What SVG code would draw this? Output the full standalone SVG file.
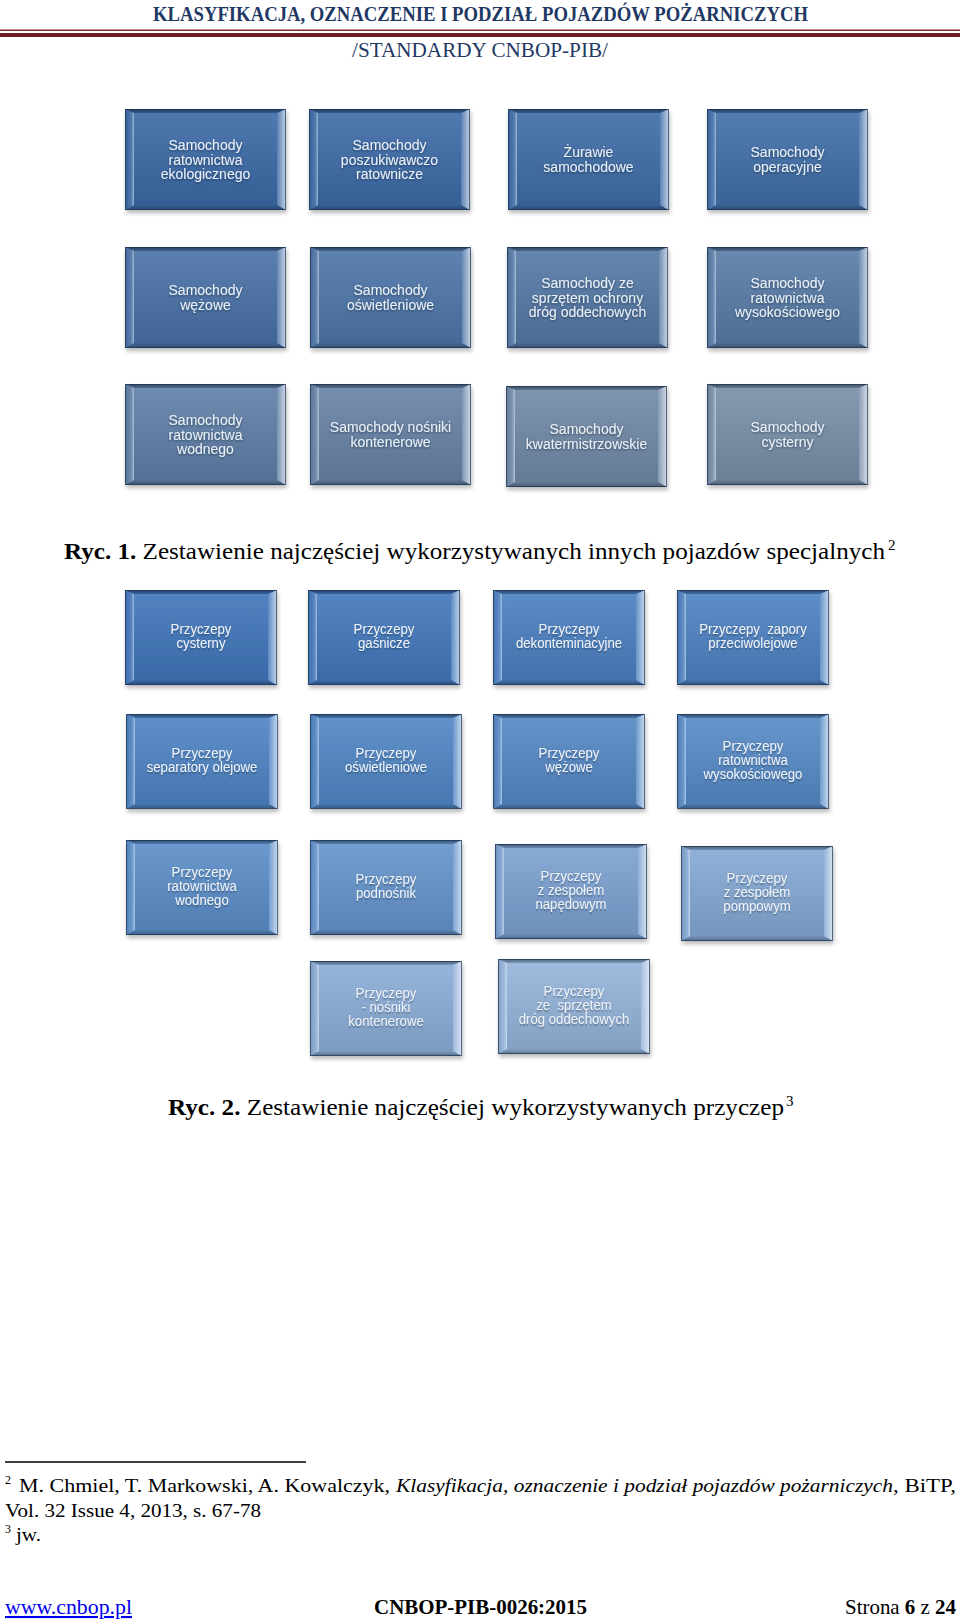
<svg xmlns="http://www.w3.org/2000/svg" xmlns:xlink="http://www.w3.org/1999/xlink" width="960" height="1621" viewBox="0 0 960 1621">
<style>
.hdr{font-family:"Liberation Serif","Times New Roman",serif;fill:#1f3864}
.pg{font-family:"Liberation Serif","Times New Roman",serif;fill:#000}
.t1{font-family:"Liberation Sans",Arial,sans-serif;font-size:14px;fill:#eaf0f8;text-anchor:middle}
.t2{font-family:"Liberation Sans",Arial,sans-serif;font-size:15px;fill:#eef3fa;text-anchor:middle}
.sh{fill:#000;opacity:.28}
</style>
<defs>
<filter id="blur" x="-10%" y="-10%" width="120%" height="130%"><feGaussianBlur stdDeviation="2"/></filter>
<filter id="ts" x="-10%" y="-20%" width="120%" height="140%"><feDropShadow dx="0" dy="1" stdDeviation="0.8" flood-color="#0a1a30" flood-opacity="0.55"/></filter>
<linearGradient id="gFace" x1="0" y1="0" x2="0" y2="1"><stop offset="0" stop-color="#fff" stop-opacity="0.1"/><stop offset="1" stop-color="#000" stop-opacity="0.1"/></linearGradient>
<linearGradient id="gL" x1="0" y1="0" x2="1" y2="0"><stop offset="0" stop-color="#000" stop-opacity="0.12"/><stop offset="0.7" stop-color="#fff" stop-opacity="0.1"/><stop offset="1" stop-color="#fff" stop-opacity="0.5"/></linearGradient>
<linearGradient id="gR" x1="0" y1="0" x2="1" y2="0"><stop offset="0" stop-color="#fff" stop-opacity="0.15"/><stop offset="1" stop-color="#fff" stop-opacity="0.7"/></linearGradient>
<linearGradient id="gT" x1="0" y1="0" x2="0" y2="1"><stop offset="0" stop-color="#000" stop-opacity="0.45"/><stop offset="1" stop-color="#000" stop-opacity="0.15"/></linearGradient>
<linearGradient id="gB" x1="0" y1="0" x2="0" y2="1"><stop offset="0" stop-color="#000" stop-opacity="0.1"/><stop offset="1" stop-color="#000" stop-opacity="0.35"/></linearGradient>
<g id="bev1">
<rect x="9" y="4" width="143" height="92" fill="url(#gFace)"/>
<polygon points="0,0 161,0 152,4 9,4" fill="url(#gT)"/>
<polygon points="0,101 161,101 152,96 9,96" fill="url(#gB)"/>
<polygon points="0,0 9,4 9,96 0,101" fill="url(#gL)"/>
<polygon points="161,0 161,101 152,96 152,4" fill="url(#gR)"/>
<rect x="0.5" y="0.5" width="160" height="100" fill="none" stroke="#1c3557" stroke-opacity="0.7"/>
</g>
<g id="bev2">
<rect x="9" y="4" width="134" height="86" fill="url(#gFace)"/>
<polygon points="0,0 152,0 143,4 9,4" fill="url(#gT)"/>
<polygon points="0,95 152,95 143,90 9,90" fill="url(#gB)"/>
<polygon points="0,0 9,4 9,90 0,95" fill="url(#gL)"/>
<polygon points="152,0 152,95 143,90 143,4" fill="url(#gR)"/>
<rect x="0.5" y="0.5" width="151" height="94" fill="none" stroke="#1c3557" stroke-opacity="0.7"/>
</g>
<rect id="sh1" x="1" y="3" width="161" height="101" class="sh" filter="url(#blur)"/>
<rect id="sh2" x="1" y="3" width="152" height="95" class="sh" filter="url(#blur)"/>
</defs>
<rect width="960" height="1621" fill="#fff"/>

<g id="header">
<text class="hdr" x="153" y="20.5" font-size="20" font-weight="bold" textLength="655" lengthAdjust="spacingAndGlyphs">KLASYFIKACJA, OZNACZENIE I PODZIAŁ POJAZDÓW POŻARNICZYCH</text>
<rect x="0" y="29.5" width="960" height="1.5" fill="#7a2a2c"/>
<rect x="0" y="33" width="960" height="4" fill="#6b1f22"/>
<text class="hdr" x="352" y="57" font-size="20" textLength="256" lengthAdjust="spacingAndGlyphs">/STANDARDY CNBOP-PIB/</text>
</g>

<g id="connectors"></g>

<!-- Figure 1 -->
<g id="f1n1" transform="translate(125,109)"><use href="#sh1"/><rect width="161" height="101" fill="#3b69a6"/><use href="#bev1"/><text class="t1" filter="url(#ts)" x="80.5" y="41">Samochody<tspan x="80.5" dy="14.5">ratownictwa</tspan><tspan x="80.5" dy="14.5">ekologicznego</tspan></text></g>
<g id="f1n2" transform="translate(309,109)"><use href="#sh1"/><rect width="161" height="101" fill="#3c6aa7"/><use href="#bev1"/><text class="t1" filter="url(#ts)" x="80.5" y="41">Samochody<tspan x="80.5" dy="14.5">poszukiwawczo</tspan><tspan x="80.5" dy="14.5">ratownicze</tspan></text></g>
<g id="f1n3" transform="translate(508,109)"><use href="#sh1"/><rect width="161" height="101" fill="#3e6ca7"/><use href="#bev1"/><text class="t1" filter="url(#ts)" x="80.5" y="48.25">Żurawie<tspan x="80.5" dy="14.5">samochodowe</tspan></text></g>
<g id="f1n4" transform="translate(707,109)"><use href="#sh1"/><rect width="161" height="101" fill="#406ea8"/><use href="#bev1"/><text class="t1" filter="url(#ts)" x="80.5" y="48.25">Samochody<tspan x="80.5" dy="14.5">operacyjne</tspan></text></g>

<g id="f1n5" transform="translate(125,247)"><use href="#sh1"/><rect width="161" height="101" fill="#4871a6"/><use href="#bev1"/><text class="t1" filter="url(#ts)" x="80.5" y="48.25">Samochody<tspan x="80.5" dy="14.5">wężowe</tspan></text></g>
<g id="f1n6" transform="translate(310,247)"><use href="#sh1"/><rect width="161" height="101" fill="#4d75a7"/><use href="#bev1"/><text class="t1" filter="url(#ts)" x="80.5" y="48.25">Samochody<tspan x="80.5" dy="14.5">oświetleniowe</tspan></text></g>
<g id="f1n7" transform="translate(507,247)"><use href="#sh1"/><rect width="161" height="101" fill="#5478a5"/><use href="#bev1"/><text class="t1" filter="url(#ts)" x="80.5" y="41">Samochody ze<tspan x="80.5" dy="14.5">sprzętem ochrony</tspan><tspan x="80.5" dy="14.5">dróg oddechowych</tspan></text></g>
<g id="f1n8" transform="translate(707,247)"><use href="#sh1"/><rect width="161" height="101" fill="#587ba6"/><use href="#bev1"/><text class="t1" filter="url(#ts)" x="80.5" y="41">Samochody<tspan x="80.5" dy="14.5">ratownictwa</tspan><tspan x="80.5" dy="14.5">wysokościowego</tspan></text></g>

<g id="f1n9" transform="translate(125,384)"><use href="#sh1"/><rect width="161" height="101" fill="#5e7ea6"/><use href="#bev1"/><text class="t1" filter="url(#ts)" x="80.5" y="41">Samochody<tspan x="80.5" dy="14.5">ratownictwa</tspan><tspan x="80.5" dy="14.5">wodnego</tspan></text></g>
<g id="f1n10" transform="translate(310,384)"><use href="#sh1"/><rect width="161" height="101" fill="#6682a5"/><use href="#bev1"/><text class="t1" filter="url(#ts)" x="80.5" y="48.25">Samochody nośniki<tspan x="80.5" dy="14.5">kontenerowe</tspan></text></g>
<g id="f1n11" transform="translate(506,386)"><use href="#sh1"/><rect width="161" height="101" fill="#6f88a6"/><use href="#bev1"/><text class="t1" filter="url(#ts)" x="80.5" y="48.25">Samochody<tspan x="80.5" dy="14.5">kwatermistrzowskie</tspan></text></g>
<g id="f1n12" transform="translate(707,384)"><use href="#sh1"/><rect width="161" height="101" fill="#778ea8"/><use href="#bev1"/><text class="t1" filter="url(#ts)" x="80.5" y="48.25">Samochody<tspan x="80.5" dy="14.5">cysterny</tspan></text></g>

<g id="caption1">
<text class="pg" x="64" y="559" font-size="23" textLength="821" lengthAdjust="spacingAndGlyphs"><tspan font-weight="bold">Ryc. 1.</tspan> Zestawienie najczęściej wykorzystywanych innych pojazdów specjalnych</text>
<text class="pg" x="888" y="550" font-size="15">2</text>
</g>

<!-- Figure 2 -->
<g id="f2n1" transform="translate(125,590)"><use href="#sh2"/><rect width="152" height="95" fill="#3f75ba"/><use href="#bev2"/><g transform="translate(76,0) scale(0.88,1)"><text class="t2" filter="url(#ts)" x="0" y="44.5">Przyczepy<tspan x="0" dy="14">cysterny</tspan></text></g></g>
<g id="f2n2" transform="translate(308,590)"><use href="#sh2"/><rect width="152" height="95" fill="#4177bb"/><use href="#bev2"/><g transform="translate(76,0) scale(0.88,1)"><text class="t2" filter="url(#ts)" x="0" y="44.5">Przyczepy<tspan x="0" dy="14">gaśnicze</tspan></text></g></g>
<g id="f2n3" transform="translate(493,590)"><use href="#sh2"/><rect width="152" height="95" fill="#4a7fc0"/><use href="#bev2"/><g transform="translate(76,0) scale(0.88,1)"><text class="t2" filter="url(#ts)" x="0" y="44.5">Przyczepy<tspan x="0" dy="14">dekonteminacyjne</tspan></text></g></g>
<g id="f2n4" transform="translate(677,590)"><use href="#sh2"/><rect width="152" height="95" fill="#4c81c1"/><use href="#bev2"/><g transform="translate(76,0) scale(0.88,1)"><text class="t2" filter="url(#ts)" x="0" y="44.5" xml:space="preserve">Przyczepy  zapory<tspan x="0" dy="14">przeciwolejowe</tspan></text></g></g>

<g id="f2n5" transform="translate(126,714)"><use href="#sh2"/><rect width="152" height="94" fill="#4d83c3"/><use href="#bev2"/><g transform="translate(76,0) scale(0.88,1)"><text class="t2" filter="url(#ts)" x="0" y="44.5">Przyczepy<tspan x="0" dy="14">separatory olejowe</tspan></text></g></g>
<g id="f2n6" transform="translate(310,714)"><use href="#sh2"/><rect width="152" height="94" fill="#4f85c4"/><use href="#bev2"/><g transform="translate(76,0) scale(0.88,1)"><text class="t2" filter="url(#ts)" x="0" y="44.5">Przyczepy<tspan x="0" dy="14">oświetleniowe</tspan></text></g></g>
<g id="f2n7" transform="translate(493,714)"><use href="#sh2"/><rect width="152" height="94" fill="#5387c4"/><use href="#bev2"/><g transform="translate(76,0) scale(0.88,1)"><text class="t2" filter="url(#ts)" x="0" y="44.5">Przyczepy<tspan x="0" dy="14">wężowe</tspan></text></g></g>
<g id="f2n8" transform="translate(677,714)"><use href="#sh2"/><rect width="152" height="94" fill="#5589c5"/><use href="#bev2"/><g transform="translate(76,0) scale(0.88,1)"><text class="t2" filter="url(#ts)" x="0" y="37.5">Przyczepy<tspan x="0" dy="14">ratownictwa</tspan><tspan x="0" dy="14">wysokościowego</tspan></text></g></g>

<g id="f2n9" transform="translate(126,840)"><use href="#sh2"/><rect width="152" height="95" fill="#5a8dc8"/><use href="#bev2"/><g transform="translate(76,0) scale(0.88,1)"><text class="t2" filter="url(#ts)" x="0" y="37.5">Przyczepy<tspan x="0" dy="14">ratownictwa</tspan><tspan x="0" dy="14">wodnego</tspan></text></g></g>
<g id="f2n10" transform="translate(310,840)"><use href="#sh2"/><rect width="152" height="95" fill="#6393ca"/><use href="#bev2"/><g transform="translate(76,0) scale(0.88,1)"><text class="t2" filter="url(#ts)" x="0" y="44.5">Przyczepy<tspan x="0" dy="14">podnośnik</tspan></text></g></g>
<g id="f2n11" transform="translate(495,844)"><use href="#sh2"/><rect width="152" height="95" fill="#7aa0d0"/><use href="#bev2"/><g transform="translate(76,0) scale(0.88,1)"><text class="t2" filter="url(#ts)" x="0" y="37.5">Przyczepy<tspan x="0" dy="14">z zespołem</tspan><tspan x="0" dy="14">napędowym</tspan></text></g></g>
<g id="f2n12" transform="translate(681,846)"><use href="#sh2"/><rect width="152" height="95" fill="#83a7d3"/><use href="#bev2"/><g transform="translate(76,0) scale(0.88,1)"><text class="t2" filter="url(#ts)" x="0" y="37.5">Przyczepy<tspan x="0" dy="14">z zespołem</tspan><tspan x="0" dy="14">pompowym</tspan></text></g></g>

<g id="f2n13" transform="translate(310,961)"><use href="#sh2"/><rect width="152" height="95" fill="#8aacd6"/><use href="#bev2"/><g transform="translate(76,0) scale(0.88,1)"><text class="t2" filter="url(#ts)" x="0" y="37.5">Przyczepy<tspan x="0" dy="14">- nośniki</tspan><tspan x="0" dy="14">kontenerowe</tspan></text></g></g>
<g id="f2n14" transform="translate(498,959)"><use href="#sh2"/><rect width="152" height="95" fill="#93b3da"/><use href="#bev2"/><g transform="translate(76,0) scale(0.88,1)"><text class="t2" filter="url(#ts)" x="0" y="37.5" xml:space="preserve">Przyczepy<tspan x="0" dy="14">ze  sprzętem</tspan><tspan x="0" dy="14">dróg oddechowych</tspan></text></g></g>

<g id="caption2">
<text class="pg" x="168" y="1115" font-size="23" textLength="616" lengthAdjust="spacingAndGlyphs"><tspan font-weight="bold">Ryc. 2.</tspan> Zestawienie najczęściej wykorzystywanych przyczep</text>
<text class="pg" x="786" y="1106" font-size="15">3</text>
</g>

<g id="footnotes">
<line x1="5" y1="1462" x2="306" y2="1462" stroke="#000" stroke-width="1.3"/>
<text class="pg" x="5" y="1484" font-size="12">2</text>
<text class="pg" x="19" y="1492" font-size="19" textLength="371" lengthAdjust="spacingAndGlyphs">M. Chmiel, T. Markowski, A. Kowalczyk,</text>
<text class="pg" x="396" y="1492" font-size="19" font-style="italic" textLength="497" lengthAdjust="spacingAndGlyphs">Klasyfikacja, oznaczenie i podział pojazdów pożarniczych</text>
<text class="pg" x="893" y="1492" font-size="19" textLength="63" lengthAdjust="spacingAndGlyphs">, BiTP,</text>
<text class="pg" x="5" y="1517" font-size="19" textLength="256" lengthAdjust="spacingAndGlyphs">Vol. 32 Issue 4, 2013, s. 67-78</text>
<text class="pg" x="5" y="1533" font-size="12">3</text>
<text class="pg" x="16" y="1541" font-size="19" textLength="25" lengthAdjust="spacingAndGlyphs">jw.</text>
</g>

<g id="footer">
<text class="pg" x="5" y="1614" font-size="21" text-decoration="underline" textLength="127" lengthAdjust="spacingAndGlyphs" style="fill:#0000ee">www.cnbop.pl</text>
<text class="pg" x="374" y="1614" font-size="21" font-weight="bold" textLength="213" lengthAdjust="spacingAndGlyphs">CNBOP-PIB-0026:2015</text>
<text class="pg" x="845" y="1614" font-size="21" textLength="111" lengthAdjust="spacingAndGlyphs">Strona <tspan font-weight="bold">6</tspan> z <tspan font-weight="bold">24</tspan></text>
</g>
</svg>
